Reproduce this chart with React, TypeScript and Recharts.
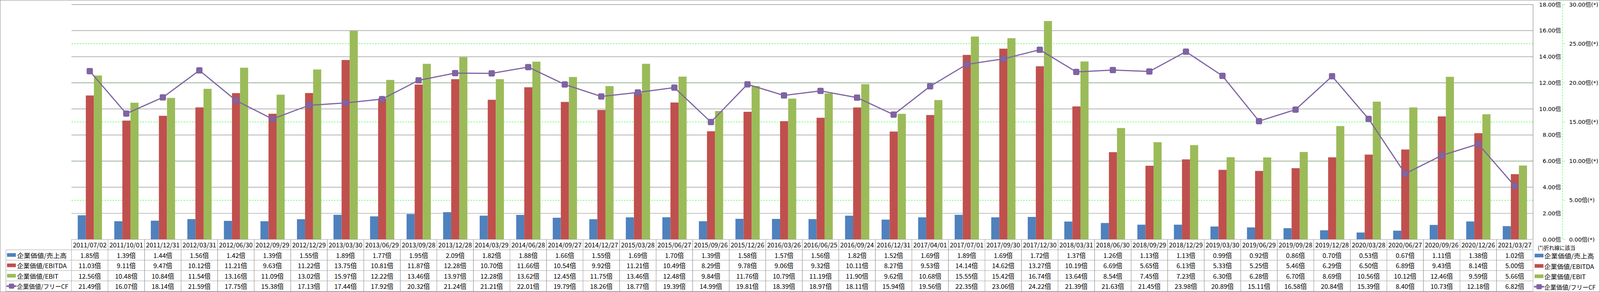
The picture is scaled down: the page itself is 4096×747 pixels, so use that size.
import { ComposedChart, Bar, Line, XAxis, YAxis, CartesianGrid } from "recharts";

// 四半期ごとの企業価値倍率
const dates = [
  "2011/07/02", "2011/10/01", "2011/12/31", "2012/03/31", "2012/06/30", "2012/09/29", "2012/12/29", "2013/03/30",
  "2013/06/29", "2013/09/28", "2013/12/28", "2014/03/29", "2014/06/28", "2014/09/27", "2014/12/27", "2015/03/28",
  "2015/06/27", "2015/09/26", "2015/12/26", "2016/03/26", "2016/06/25", "2016/09/24", "2016/12/31", "2017/04/01",
  "2017/07/01", "2017/09/30", "2017/12/30", "2018/03/31", "2018/06/30", "2018/09/29", "2018/12/29", "2019/03/30",
  "2019/06/29", "2019/09/28", "2019/12/28", "2020/03/28", "2020/06/27", "2020/09/26", "2020/12/26", "2021/03/27",
];
const evSales = [
  1.85, 1.39, 1.44, 1.56, 1.42, 1.39, 1.55, 1.89, 1.77, 1.95, 2.09, 1.82, 1.88, 1.66, 1.55, 1.69, 1.7, 1.39, 1.58, 1.57,
  1.56, 1.82, 1.52, 1.69, 1.89, 1.69, 1.72, 1.37, 1.26, 1.13, 1.13, 0.99, 0.92, 0.86, 0.7, 0.53, 0.67, 1.11, 1.38, 1.02,
];
const evEbitda = [
  11.03, 9.11, 9.47, 10.12, 11.21, 9.63, 11.22, 13.75, 10.81, 11.87, 12.28, 10.7, 11.66, 10.54, 9.92, 11.21, 10.49, 8.29,
  9.78, 9.06, 9.32, 10.11, 8.27, 9.53, 14.14, 14.62, 13.27, 10.19, 6.69, 5.65, 6.13, 5.33, 5.25, 5.46, 6.29, 6.5, 6.89,
  9.43, 8.14, 5.0,
];
const evEbit = [
  12.56, 10.48, 10.84, 11.54, 13.16, 11.09, 13.02, 15.97, 12.22, 13.46, 13.97, 12.28, 13.62, 12.45, 11.75, 13.46, 12.48,
  9.84, 11.76, 10.79, 11.19, 11.9, 9.62, 10.68, 15.55, 15.42, 16.74, 13.64, 8.54, 7.45, 7.23, 6.3, 6.28, 6.7, 8.69, 10.56,
  10.12, 12.46, 9.59, 5.66,
];
const evFcf = [
  21.49, 16.07, 18.14, 21.59, 17.75, 15.38, 17.13, 17.44, 17.92, 20.32, 21.24, 21.21, 22.01, 19.79, 18.26, 18.77, 19.39,
  14.99, 19.81, 18.39, 18.97, 18.11, 15.94, 19.56, 22.35, 23.06, 24.22, 21.39, 21.63, 21.45, 23.98, 20.89, 15.11, 16.58,
  20.84, 15.39, 8.4, 10.73, 12.18, 6.82,
];
const leftTicks = [0, 2, 4, 6, 8, 10, 12, 14, 16, 18];
const rightTicks = [0, 5, 10, 15, 20, 25, 30];
const seriesNames = ["企業価値/売上高", "企業価値/EBITDA", "企業価値/EBIT", "企業価値/フリーCF"];
const seriesColors = ["#4F81BD", "#C0504D", "#9BBB59", "#8064A2"];
const lineNote = "(*)折れ線に該当";

const data = dates.map((date, i) => ({
  date,
  sales: evSales[i],
  ebitda: evEbitda[i],
  ebit: evEbit[i],
  fcf: evFcf[i],
}));

const W = 4096;
const H = 747;
const PLOT_L = 183;
const PLOT_R = 3924.6;
const PLOT_T = 11.6;
const TABLE_B = 745.2;
const X_AXIS_H = 132.7;
const AXIS_L_W = 75.4;
const AXIS_R_W = W - PLOT_R - AXIS_L_W;
const COL_W = (PLOT_R - PLOT_L) / dates.length;
const ROW_H = X_AXIS_H / 5;
const LABEL_X = 15.1;
const LEGEND_X = 3928.6;
// label text widths as measured on the reference
const LABEL_W = [127, 127, 106, 131];

const GRID = "#878787";
const CELL = "#a0a0a0";
const LIME = "#00FF00";
const TABLE_FONT = '"Noto Sans CJK JP", "Noto Sans", sans-serif';
const AXIS_FONT = '"DejaVu Sans", "Noto Sans CJK JP", sans-serif';

const fmt = (v: number) => `${v.toFixed(2)}倍`;

function Swatch({ x, cy, i }: { x: number; cy: number; i: number }) {
  if (i === 3) {
    return (
      <g>
        <line x1={x - 1.5} x2={x + 24.5} y1={cy} y2={cy} stroke={seriesColors[3]} strokeWidth={4} />
        <rect x={x + 4.5} y={cy - 6.5} width={14} height={13} rx={3} fill={seriesColors[3]} />
      </g>
    );
  }
  return <rect x={x} y={cy - 4.7} width={22.6} height={9.3} fill={seriesColors[i]} />;
}

function SeriesLabel({ x, cy, k }: { x: number; cy: number; k: number }) {
  return (
    <text
      x={x}
      y={cy}
      dominantBaseline="central"
      fontFamily={TABLE_FONT}
      fontSize={16}
      fill="#000"
      textLength={LABEL_W[k]}
      lengthAdjust="spacingAndGlyphs"
    >
      {seriesNames[k]}
    </text>
  );
}

function TableTick(props: any) {
  const { x, y, index } = props;
  const l = x - COL_W / 2;
  const r = x + COL_W / 2;
  const cells = [dates[index], fmt(evSales[index]), fmt(evEbitda[index]), fmt(evEbit[index]), fmt(evFcf[index])];
  const last = index === dates.length - 1;
  return (
    <g>
      {[0, 1, 2, 3, 4, 5].map((k) => (
        <line key={`h${k}`} x1={l} x2={r} y1={y + k * ROW_H} y2={y + k * ROW_H} stroke={CELL} strokeWidth={1} />
      ))}
      <line x1={l} x2={l} y1={y} y2={y + 5 * ROW_H} stroke={CELL} strokeWidth={1} />
      <line x1={r} x2={r} y1={y} y2={y + 5 * ROW_H} stroke={CELL} strokeWidth={1} />
      {cells.map((c, k) => (
        <text
          key={`t${k}`}
          x={x}
          y={y + (k + 0.5) * ROW_H + 0.5}
          textAnchor="middle"
          dominantBaseline="central"
          fontFamily={TABLE_FONT}
          fontSize={16.5}
          fill="#000"
        >
          {c}
        </text>
      ))}
      {index === 0 && (
        <g>
          {[1, 2, 3, 4, 5].map((k) => (
            <line key={`lh${k}`} x1={LABEL_X} x2={l} y1={y + k * ROW_H} y2={y + k * ROW_H} stroke={CELL} strokeWidth={1} />
          ))}
          <line x1={LABEL_X} x2={LABEL_X} y1={y + ROW_H} y2={y + 5 * ROW_H} stroke={CELL} strokeWidth={1} />
          {seriesNames.map((name, k) => (
            <g key={`lab${k}`}>
              <Swatch x={18} cy={y + (k + 1.5) * ROW_H} i={k} />
              <SeriesLabel x={43.6} cy={y + (k + 1.5) * ROW_H + 0.5} k={k} />
            </g>
          ))}
        </g>
      )}
      {last && (
        <g>
          <text x={3936.7} y={y + 20.5} dominantBaseline="central" fontFamily={TABLE_FONT} fontSize={13.5} fill="#000">
            {lineNote}
          </text>
          {seriesNames.map((name, k) => (
            <g key={`leg${k}`}>
              <Swatch x={LEGEND_X} cy={y + (k + 1.5) * ROW_H + 1.5} i={k} />
              <SeriesLabel x={LEGEND_X + 25} cy={y + (k + 1.5) * ROW_H + 2} k={k} />
            </g>
          ))}
        </g>
      )}
    </g>
  );
}

function LeftTick({ x, y, payload }: any) {
  return (
    <text x={x} y={y} textAnchor="end" dominantBaseline="central" fontFamily={AXIS_FONT} fontSize={14.5} fill="#000">
      {`${Number(payload.value).toFixed(2)}倍`}
    </text>
  );
}

function RightTick({ x, y, payload }: any) {
  return (
    <text x={x} y={y} textAnchor="start" dominantBaseline="central" fontFamily={AXIS_FONT} fontSize={14.5} fill="#000">
      {`${Number(payload.value).toFixed(2)}倍(*)`}
    </text>
  );
}

function FcfDot(p: any) {
  if (p.cx == null || p.cy == null) return null;
  return (
    <rect
      key={`dot${p.index}`}
      x={p.cx - 7.5}
      y={p.cy - 7.5}
      width={15}
      height={15}
      rx={2.5}
      fill="#8064A2"
      stroke="#7A5D9D"
      strokeWidth={1}
    />
  );
}

export default function App() {
  return (
    <div style={{ position: "absolute", left: 0, top: 0, width: W, height: H, background: "#fff" }}>
      <ComposedChart
        width={W}
        height={H}
        data={data}
        barGap={0}
        margin={{ top: PLOT_T, right: 0, bottom: H - TABLE_B, left: PLOT_L }}
      >
        <CartesianGrid yAxisId="r" vertical={false} stroke={LIME} strokeDasharray="4 3" strokeWidth={1} />
        <CartesianGrid yAxisId="l" vertical={false} stroke={GRID} strokeWidth={1.2} />
        <XAxis
          dataKey="date"
          height={X_AXIS_H}
          interval={0}
          axisLine={false}
          tickLine={false}
          tickSize={0}
          tickMargin={0}
          tick={<TableTick />}
        />
        <YAxis
          yAxisId="l"
          orientation="right"
          width={AXIS_L_W}
          domain={[0, 18]}
          ticks={leftTicks}
          axisLine={{ stroke: GRID, strokeWidth: 1.2 }}
          tickLine={false}
          tickSize={0}
          tickMargin={AXIS_L_W - 4}
          tick={<LeftTick />}
        />
        <YAxis
          yAxisId="r"
          orientation="right"
          width={AXIS_R_W}
          domain={[0, 30]}
          ticks={rightTicks}
          axisLine={{ stroke: LIME, strokeDasharray: "4 3", strokeWidth: 1 }}
          tickLine={{ stroke: LIME, strokeDasharray: "3 2", strokeWidth: 1 }}
          tickSize={6}
          tickMargin={11}
          tick={<RightTick />}
        />
        <Bar yAxisId="l" dataKey="sales" fill={seriesColors[0]} barSize={20.7} isAnimationActive={false} />
        <Bar yAxisId="l" dataKey="ebitda" fill={seriesColors[1]} barSize={20.7} isAnimationActive={false} />
        <Bar yAxisId="l" dataKey="ebit" fill={seriesColors[2]} barSize={20.7} isAnimationActive={false} />
        <Line
          yAxisId="r"
          type="linear"
          dataKey="fcf"
          stroke={seriesColors[3]}
          strokeWidth={3}
          dot={<FcfDot />}
          activeDot={false}
          isAnimationActive={false}
        />
      </ComposedChart>
      <div
        style={{
          position: "absolute",
          left: 0,
          top: 0,
          width: W,
          height: H,
          boxSizing: "border-box",
          border: "1.5px solid #868686",
          pointerEvents: "none",
        }}
      />
    </div>
  );
}
